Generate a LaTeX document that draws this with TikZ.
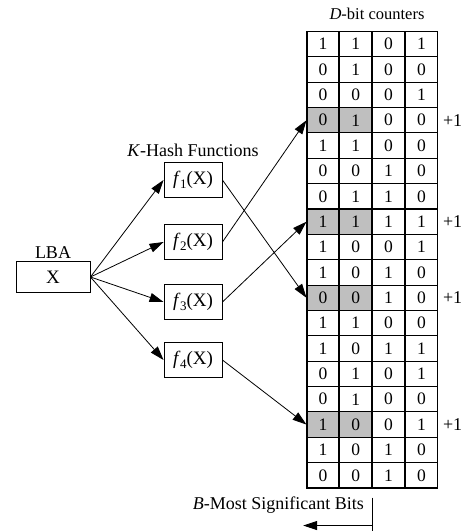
\documentclass[tikz,border=0pt]{standalone}
\usepackage{fontspec}
\setmainfont{Liberation Serif}
\usetikzlibrary{arrows.meta, positioning, calc}

\newcommand{\hashf}[1]{\textit{f}\kern-0.5pt\raisebox{-0.2em}{\fontsize{13}{13}\selectfont #1}(X)}

\begin{document}
\begin{tikzpicture}[
    x=1pt, y=-1pt,
    font=\fontsize{18}{20}\selectfont,
    box/.style={draw, line width=0.9pt, minimum width=58pt, minimum height=35pt, inner sep=0pt, font=\fontsize{19}{20}\selectfont},
    cell/.style={draw, line width=1.1pt, minimum width=31.75pt, minimum height=25.36pt, inner sep=0pt, font=\fontsize{17.5}{18}\selectfont},
    hit/.style={cell, fill=gray!50},
    plusone/.style={inner sep=0pt, right=5pt of #1},
    arrow/.style={-{Triangle[length=14pt, width=9pt]}, line width=0.8pt}
]
\useasboundingbox (0,0) rectangle (464,531);

% LBA input
\node[box, minimum width=74pt, minimum height=31pt] (lba) at (53,277) {X};
\node[above=2pt of lba, inner sep=0pt] (lbalabel) {LBA};

% hash functions
\node[box] (f1) at (193,180) {\hashf{1}};
\node[box] (f2) at (193,242) {\hashf{2}};
\node[box] (f3) at (193,302) {\hashf{3}};
\node[box] (f4) at (193,360) {\hashf{4}};
\node[above=5pt of f1, inner sep=0pt] (hashlabel) {\textit{K}-Hash Functions};

% counter table
\foreach \r/\a/\b/\c/\d/\s in {1/1/1/0/1/cell, 2/0/1/0/0/cell, 3/0/0/0/1/cell, 4/0/1/0/0/hit,
    5/1/1/0/0/cell, 6/0/0/1/0/cell, 7/0/1/1/0/cell, 8/1/1/1/1/hit, 9/1/0/0/1/cell,
    10/1/0/1/0/cell, 11/0/0/1/0/hit, 12/1/1/0/0/cell, 13/1/0/1/1/cell, 14/0/1/0/1/cell,
    15/0/1/0/0/cell, 16/1/0/0/1/hit, 17/1/0/1/0/cell, 18/0/0/1/0/cell} {
  \node[\s] (c-\r-1) at (322.9, 31.5+25.36*\r-12.68) {\a};
  \node[\s, right=0pt of c-\r-1] (c-\r-2) {\b};
  \node[cell, right=0pt of c-\r-2] (c-\r-3) {\c};
  \node[cell, right=0pt of c-\r-3] (c-\r-4) {\d};
}
\node[font=\fontsize{16.5}{18}\selectfont] (countlabel) at (377,14) {\textit{D}-bit counters};

% increments
\node[plusone=c-4-4] (inc4) {+1};
\node[plusone=c-8-4] (inc8) {+1};
\node[plusone=c-11-4] (inc11) {+1};
\node[plusone=c-16-4] (inc16) {+1};

% arrows
\draw[arrow] (lba.east) -- (f1.west);
\draw[arrow] (lba.east) -- (f2.west);
\draw[arrow] (lba.east) -- (f3.west);
\draw[arrow] (lba.east) -- (f4.west);
\draw[arrow] (f1.east) -- (c-11-1.west);
\draw[arrow] (f2.east) -- (c-4-1.west);
\draw[arrow] (f3.east) -- (c-8-1.west);
\draw[arrow] (f4.east) -- (c-16-1.west);

% most significant bits marker
\coordinate (msbtop) at ($(c-18-2.south east)+(0,9)$);
\coordinate (msbbot) at ($(msbtop)+(0,35)$);
\coordinate (msbarr) at ($(msbtop)+(0,28)$);
\coordinate (msbend) at ($(msbarr)+(-69,0)$);
\draw[line width=0.9pt] (msbtop) -- (msbbot);
\draw[arrow] (msbarr) -- (msbend);
\node[anchor=east, inner sep=0pt] (msblabel) at ($(msbtop)+(-8,8)$) {\textit{B}-Most Significant Bits};

\end{tikzpicture}
\end{document}
